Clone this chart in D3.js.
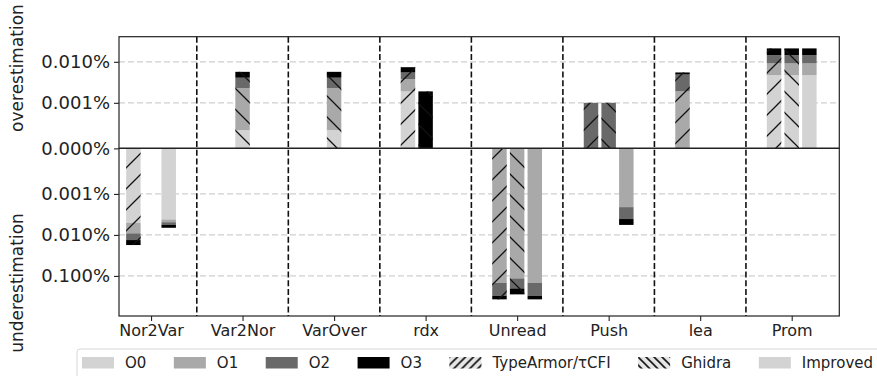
<!DOCTYPE html>
<html>
<head>
<meta charset="utf-8">
<script src="https://cdn.jsdelivr.net/npm/d3@7"></script>
<style>
  body { margin: 0; background: #fff; }
  svg text { font-family: "DejaVu Sans", sans-serif; fill: #222; }
</style>
</head>
<body>
<svg id="chart" width="877" height="376"></svg>
<script>
// ---- data: error per optimisation level, in percent (+ over, - under) ----
const categories = ["Nor2Var", "Var2Nor", "VarOver", "rdx", "Unread", "Push", "lea", "Prom"];
const tools = ["TypeArmor/τCFI", "Ghidra", "Improved"];
const levels = ["O0", "O1", "O2", "O3"];

const typeArmorO0 = [-0.00505, 0, 0, 0.0019, 0, 0, 0, 0.00475];
const typeArmorO1 = [-0.0041, 0, 0, 0.0019, -0.147, 0, 0.0019, 0.0044];
const typeArmorO2 = [-0.0042, 0, 0, 0.0017, -0.158, 0.001, 0.0030, 0.0054];
const typeArmorO3 = [-0.0043, 0, 0, 0.0019, -0.068, 0, 0.0006, 0.0067];

const ghidraO0 = [0, 0.0004, 0.0004, 0, 0, 0, 0, 0.00475];
const ghidraO1 = [0, 0.0019, 0.0019, 0, -0.115, 0, 0, 0.0044];
const ghidraO2 = [0, 0.0018, 0.0018, 0, -0.087, 0.001, 0, 0.0054];
const ghidraO3 = [0, 0.0016, 0.0016, 0.0019, -0.080, 0, 0, 0.0067];

const improvedO0 = [-0.0042, 0, 0, 0, 0, 0, 0, 0.00475];
const improvedO1 = [-0.0007, 0, 0, 0, -0.147, -0.0021, 0, 0.0044];
const improvedO2 = [-0.0008, 0, 0, 0, -0.158, -0.0020, 0, 0.0054];
const improvedO3 = [-0.0010, 0, 0, 0, -0.068, -0.0016, 0, 0.0067];

const yTickValues = [0.01, 0.001, 0, -0.001, -0.01, -0.1];
const yTickLabels = ["0.010%", "0.001%", "0.000%", "0.001%", "0.010%", "0.100%"];
const yLimits = [-0.95, 0.041];

// ---- styling ----
const levelColors = { O0: "#d3d3d3", O1: "#a9a9a9", O2: "#696969", O3: "#000000" };
const toolHatch = { "TypeArmor/τCFI": "hatchFwd", "Ghidra": "hatchBack", "Improved": null };

const seriesByTool = {
  "TypeArmor/τCFI": [typeArmorO0, typeArmorO1, typeArmorO2, typeArmorO3],
  "Ghidra": [ghidraO0, ghidraO1, ghidraO2, ghidraO3],
  "Improved": [improvedO0, improvedO1, improvedO2, improvedO3]
};

const svg = d3.select("#chart");
const plot = { left: 119, right: 839.3, top: 36.7, bottom: 316 };

// symmetric log transform: linear up to 0.001%, logarithmic beyond
const LINTHRESH = 0.001, LINSCALE = 1 / (1 - 1 / 10);
function symlog(v) {
  const a = Math.abs(v);
  return a <= LINTHRESH ? v * LINSCALE
    : Math.sign(v) * LINTHRESH * (LINSCALE + Math.log10(a / LINTHRESH));
}
const yT = d3.scaleLinear().domain(yLimits.map(symlog)).range([plot.bottom, plot.top]);
const y = v => yT(symlog(v));

const x = d3.scaleLinear().domain([-0.35, 7.52]).range([plot.left, plot.right]);
const barStep = 0.193, barWidth = 0.158;

// ---- hatch patterns ----
const defs = svg.append("defs");
function hatch(id, size, forward, sw) {
  const p = defs.append("pattern").attr("id", id)
    .attr("patternUnits", "userSpaceOnUse").attr("width", size).attr("height", size);
  const s = size;
  const d = forward
    ? `M${-s/4},${s/4} L${s/4},${-s/4} M0,${s} L${s},0 M${s*3/4},${s*5/4} L${s*5/4},${s*3/4}`
    : `M${-s/4},${s*3/4} L${s/4},${s*5/4} M0,0 L${s},${s} M${s*3/4},${-s/4} L${s*5/4},${s/4}`;
  p.append("path").attr("d", d).attr("stroke", "#111").attr("stroke-width", sw).attr("fill", "none");
}
hatch("hatchFwd", 21, true, 1.3);
hatch("hatchBack", 21, false, 1.3);
hatch("hatchFwdSmall", 8, true, 1.6);
hatch("hatchBackSmall", 8, false, 1.6);

// ---- horizontal grid ----
svg.append("g").selectAll("line").data(yTickValues.filter(v => v !== 0)).join("line")
  .attr("x1", plot.left).attr("x2", plot.right)
  .attr("y1", d => y(d)).attr("y2", d => y(d))
  .attr("stroke", "#cfcfcf").attr("stroke-width", 1.3).attr("stroke-dasharray", "6,3");

// ---- stacked bars ----
const stack = d3.stack().keys(levels).offset(d3.stackOffsetDiverging);
const barsG = svg.append("g");
tools.forEach((tool, k) => {
  const rows = categories.map((c, i) => {
    const r = { idx: i };
    levels.forEach((lv, j) => r[lv] = seriesByTool[tool][j][i]);
    return r;
  });
  const layers = stack(rows);
  const bx = i => x(i + (k - 1) * barStep - barWidth / 2);
  const bw = x(barWidth) - x(0);
  layers.forEach(layer => {
    barsG.append("g").selectAll("rect").data(layer.filter(d => d[1] !== d[0])).join("rect")
      .attr("x", d => bx(d.data.idx)).attr("width", bw)
      .attr("y", d => Math.min(y(d[0]), y(d[1])))
      .attr("height", d => Math.abs(y(d[1]) - y(d[0])))
      .attr("fill", levelColors[layer.key]);
  });
  if (toolHatch[tool]) {
    const totals = rows.map(r => ({ idx: r.idx, v: d3.sum(levels, lv => r[lv]) })).filter(d => d.v !== 0);
    barsG.append("g").selectAll("rect").data(totals).join("rect")
      .attr("x", d => bx(d.idx)).attr("width", bw)
      .attr("y", d => Math.min(y(0), y(d.v)))
      .attr("height", d => Math.abs(y(d.v) - y(0)))
      .attr("fill", `url(#${toolHatch[tool]})`);
  }
});

// ---- group separators ----
svg.append("g").selectAll("line").data(d3.range(categories.length - 1)).join("line")
  .attr("x1", d => x(d + 0.5)).attr("x2", d => x(d + 0.5))
  .attr("y1", plot.top).attr("y2", plot.bottom)
  .attr("stroke", "#111").attr("stroke-width", 1.6).attr("stroke-dasharray", "6,2.7");

// zero line
svg.append("line").attr("x1", plot.left).attr("x2", plot.right)
  .attr("y1", y(0)).attr("y2", y(0)).attr("stroke", "#222").attr("stroke-width", 1.5);

// frame
svg.append("rect").attr("x", plot.left).attr("y", plot.top)
  .attr("width", plot.right - plot.left).attr("height", plot.bottom - plot.top)
  .attr("fill", "none").attr("stroke", "#222").attr("stroke-width", 1.2);

// ---- axes ----
const yAxis = svg.append("g").attr("transform", `translate(${plot.left},0)`)
  .call(d3.axisLeft(yT).tickValues(yTickValues.map(symlog))
    .tickFormat((d, i) => yTickLabels[i]).tickSize(5).tickPadding(4));
const xAxis = svg.append("g").attr("transform", `translate(0,${plot.bottom})`)
  .call(d3.axisBottom(x).tickValues(d3.range(categories.length))
    .tickFormat(i => categories[i]).tickSize(5).tickPadding(4));
[yAxis, xAxis].forEach(a => {
  a.select(".domain").remove();
  a.selectAll(".tick line").attr("stroke", "#222").attr("stroke-width", 1.1);
  a.selectAll(".tick text").style("font-family", "DejaVu Sans").attr("fill", "#222");
});
yAxis.selectAll(".tick text").style("font-size", "18px");
xAxis.selectAll(".tick text").style("font-size", "16px");

// side labels
svg.append("text").attr("transform", "translate(23,68) rotate(-90)")
  .attr("text-anchor", "middle").style("font-size", "17px").text("overestimation");
svg.append("text").attr("transform", "translate(23,283) rotate(-90)")
  .attr("text-anchor", "middle").style("font-size", "17px").text("underestimation");

// ---- legend ----
const legendItems = [
  ...levels.map(lv => ({ label: lv, fill: levelColors[lv], hatch: null })),
  { label: tools[0], fill: "#e6e6e6", hatch: "hatchFwdSmall" },
  { label: tools[1], fill: "#e6e6e6", hatch: "hatchBackSmall" },
  { label: tools[2], fill: levelColors.O0, hatch: null }
];
const legend = svg.append("g").attr("transform", "translate(77,349)");
legend.append("rect").attr("x", 0).attr("y", 0).attr("width", 830).attr("height", 40)
  .attr("rx", 3).attr("fill", "#fff").attr("stroke", "#d6d6d6").attr("stroke-width", 1);
let lx = 5;
legendItems.forEach(it => {
  const g = legend.append("g").attr("transform", `translate(${lx},8)`);
  g.append("rect").attr("width", 32).attr("height", 11.5).attr("fill", it.fill);
  if (it.hatch) g.append("rect").attr("width", 32).attr("height", 11.5).attr("fill", `url(#${it.hatch})`);
  const t = g.append("text").attr("x", 43).attr("y", 11).style("font-size", "15px").text(it.label);
  lx += 43 + t.node().getComputedTextLength() + 27.5;
});
</script>
</body>
</html>
